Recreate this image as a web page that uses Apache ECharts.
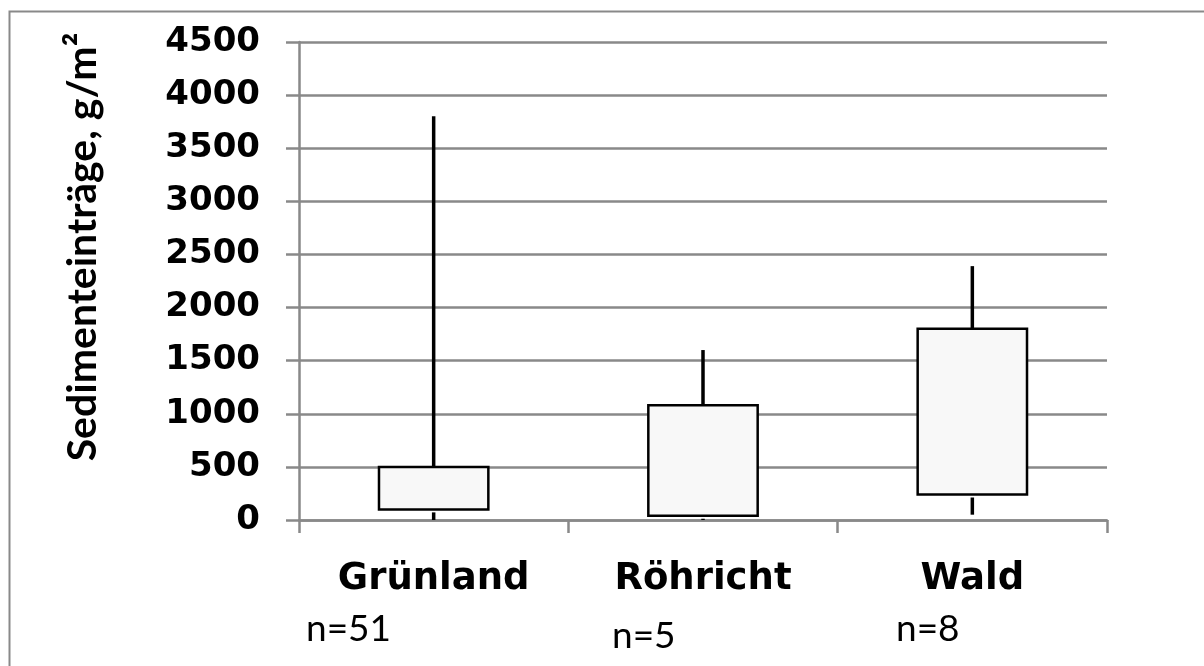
<!DOCTYPE html>
<html>
<head>
<meta charset="utf-8">
<script src="https://cdn.jsdelivr.net/npm/echarts@6/dist/echarts.min.js"></script>
<style>
  html, body { margin: 0; padding: 0; background: #fff; }
  #chart { width: 1204px; height: 666px; }
</style>
</head>
<body>
<div id="chart"></div>
<script>
// Sediment input per land-use type (g/m²).
const categories = ["Grünland", "Röhricht", "Wald"];
const whiskerLow = [0, 0, 50];
const boxLow = [100, 40, 240];
const boxHigh = [500, 1080, 1800];
const whiskerHigh = [3800, 1600, 2390];
const sampleSizes = ["n=51", "n=5", "n=8"];
const yTicks = { min: 0, max: 4500, interval: 500 };

const GRID_GREY = "#898989";

const boxData = categories.map((c, i) => [i, whiskerLow[i], boxLow[i], boxHigh[i], whiskerHigh[i]]);

function renderBox(params, api) {
  const x = api.value(0);
  const low = api.coord([x, api.value(1)]);
  const q1 = api.coord([x, api.value(2)]);
  const q3 = api.coord([x, api.value(3)]);
  const high = api.coord([x, api.value(4)]);
  const halfW = api.size([1, 0])[0] * 0.203;
  const whisker = { stroke: "#000", lineWidth: 3.5 };
  return {
    type: "group",
    children: [
      { type: "line", shape: { x1: high[0], y1: high[1], x2: q3[0], y2: q3[1] }, style: whisker },
      { type: "line", shape: { x1: low[0], y1: low[1], x2: q1[0], y2: q1[1] + 3 }, style: whisker },
      {
        type: "rect",
        shape: { x: q1[0] - halfW, y: q3[1], width: halfW * 2, height: q1[1] - q3[1] },
        style: { fill: "#f8f8f8", stroke: "#000", lineWidth: 2.5 },
      },
    ],
  };
}

// n= labels sit under each category, not centred (as in the original)
const nLabelPos = [[306, 611], [612, 618], [896, 611]];

const chart = echarts.init(document.getElementById("chart"));
chart.setOption({
  animation: false,
  backgroundColor: "#fff",
  grid: { left: 299, right: 97, top: 42, bottom: 146 },
  xAxis: {
    type: "category",
    data: categories,
    boundaryGap: true,
    axisLine: { lineStyle: { color: GRID_GREY, width: 2.5 } },
    axisTick: { show: true, length: 13, lineStyle: { color: GRID_GREY, width: 2.5 } },
    axisLabel: {
      margin: 41,
      color: "#000",
      fontFamily: "DejaVu Sans",
      fontWeight: "bold",
      fontSize: 37,
    },
  },
  yAxis: {
    type: "value",
    min: yTicks.min,
    max: yTicks.max,
    interval: yTicks.interval,
    axisLine: { show: true, lineStyle: { color: GRID_GREY, width: 2.5 } },
    axisTick: { show: true, length: 13, lineStyle: { color: GRID_GREY, width: 2.5 } },
    splitLine: { lineStyle: { color: GRID_GREY, width: 2.5 } },
    axisLabel: {
      margin: 39,
      color: "#000",
      fontFamily: "DejaVu Sans",
      fontWeight: "bold",
      fontSize: 34,
      formatter: (v) => String(v),
    },
  },
  series: [
    {
      type: "custom",
      renderItem: renderBox,
      data: boxData,
      encode: { x: 0, y: [1, 2, 3, 4] },
      z: 5,
    },
  ],
  graphic: [
    // frame: only the top and left edges show in the crop
    {
      type: "rect",
      left: 7, top: 9,
      shape: { width: 1300, height: 800 },
      style: { fill: null, stroke: GRID_GREY, lineWidth: 2 },
      silent: true,
    },
    {
      type: "text",
      x: 83, y: 247,
      rotation: Math.PI / 2,
      style: {
        text: "Sedimenteinträge, g/m²",
        fill: "#000",
        font: "bold 41px Lato",
        align: "center",
        verticalAlign: "middle",
      },
    },
    ...sampleSizes.map((t, i) => ({
      type: "text",
      x: nLabelPos[i][0], y: nLabelPos[i][1],
      style: { text: t, fill: "#000", font: "37px Lato", align: "left", verticalAlign: "top" },
    })),
  ],
});
</script>
</body>
</html>
